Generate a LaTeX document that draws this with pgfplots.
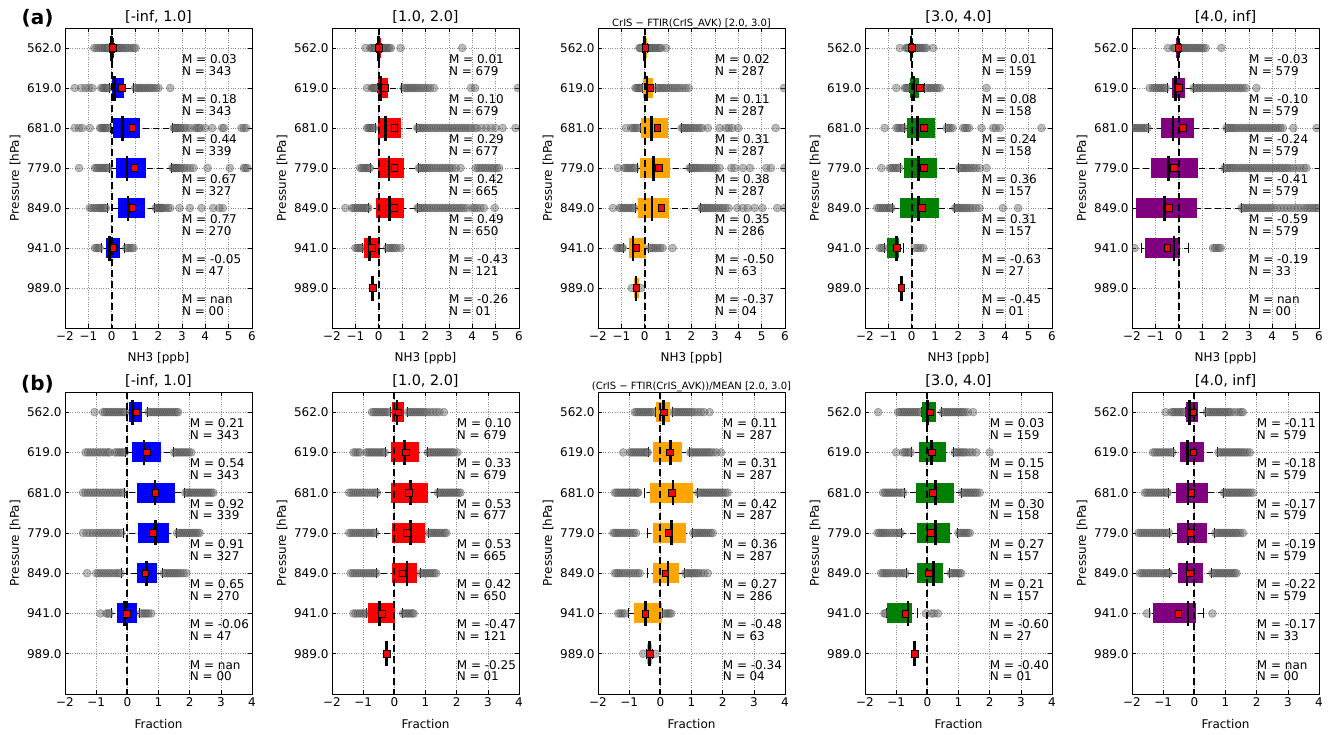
\documentclass[border=0pt]{standalone}
\usepackage{fontspec}
\setmainfont{DejaVu Sans}
\usepackage{pgfplots}
\pgfplotsset{compat=1.18}
\usepackage{pgfplotstable}

\definecolor{mblue}{RGB}{0,0,255}
\definecolor{mred}{RGB}{255,0,0}
\definecolor{morange}{RGB}{255,165,0}
\definecolor{mgreen}{RGB}{0,128,0}
\definecolor{mpurple}{RGB}{128,0,128}

\newcommand\tf{\fontsize{12}{14}\selectfont}

\pgfplotsset{
  panel/.style={scale only axis, width=187pt, anchor=south west,
    ymin=0.5, ymax=8, y dir=reverse,
    ytick={1,2,3,4,5,6,7}, yticklabels={562.0,619.0,681.0,779.0,849.0,941.0,989.0},
    grid=major, grid style={black!45, dotted, line width=0.6pt},
    axis line style={line width=0.8pt},
    tick align=inside, major tick length=4pt, tick style={black, line width=0.6pt},
    tick label style={font=\tf}, label style={font=\tf},
    ylabel={Pressure [hPa]},
    ylabel style={at={(axis description cs:-0.267,0.5)}, anchor=center},
    xlabel style={at={(axis description cs:0.5,-0.1)}, anchor=center},
    title style={at={(axis description cs:0.5,1.036)}, anchor=center, yshift=-6pt,
      font=\fontsize{14.4}{17}\selectfont},
    clip marker paths=true},
  rowa/.style={panel, height=300pt, xmin=-2, xmax=6,
    xtick={-2,-1,0,1,2,3,4,5,6}, xticklabels={−2,−1,0,1,2,3,4,5,6}, xlabel={NH3 [ppb]}},
  rowb/.style={panel, height=302pt, xmin=-2, xmax=4,
    xtick={-2,-1,0,1,2,3,4}, xticklabels={−2,−1,0,1,2,3,4}, xlabel={Fraction}},
  outl/.style={only marks, mark=*, mark size=4pt,
    mark options={fill=black!60, draw=black!75, opacity=0.45, line width=0.5pt}},
  cap/.style={only marks, mark=|, mark size=5pt, mark options={draw=black, line width=0.9pt}},
}

% whiskers (dashed) and caps
\newcommand\whisk[1]{%
  \addplot[draw=none, error bars/.cd, x dir=both, x explicit, error mark=none,
    error bar style={draw=black, line width=0.8pt, dash pattern=on 6pt off 4pt}]
    table[x=med, y=p, x error plus expr=\thisrow{wh}-\thisrow{med},
      x error minus expr=\thisrow{med}-\thisrow{wl}] {#1};
  \addplot[cap] table[x=wl, y=p] {#1};
  \addplot[cap] table[x=wh, y=p] {#1};
}
% boxes and medians
\newcommand\boxes[2]{%
  \addplot[draw=none, error bars/.cd, x dir=both, x explicit, error mark=none,
    error bar style={draw=#2, line width=20pt, solid}]
    table[x=med, y=p, x error plus expr=\thisrow{q3}-\thisrow{med},
      x error minus expr=\thisrow{med}-\thisrow{q1}] {#1};
  \addplot[only marks, mark=|, mark size=12.5pt, mark options={draw=black, line width=2.6pt}]
    table[x=med, y=p] {#1};
}
\newcommand\zeroline{\addplot[black, line width=1.7pt, dash pattern=on 7pt off 4pt] coordinates {(0,0.5) (0,8)};}
\newcommand\means[1]{\addplot[only marks, mark=square*, mark size=3.3pt,
  mark options={fill=mred, draw=black, line width=0.5pt}] table[x=mean, y=p] {#1};}
\newcommand\ann[4]{%
  \node[anchor=west, inner sep=0pt, font=\tf, yshift=-11pt] at (axis cs:#1,#2) {M = #3};
  \node[anchor=west, inner sep=0pt, font=\tf, yshift=-22.8pt] at (axis cs:#1,#2) {N = #4};}

% box statistics: position, lower whisker, q1, median, q3, upper whisker, mean
\pgfplotstableread{
p wl q1 med q3 wh mean
1 -0.10 -0.06 0.00 0.10 0.13 0.03
2 -0.10 0.03 0.13 0.51 0.92 0.44
3 -0.05 0.07 0.46 1.20 2.60 0.88
4 -0.10 0.20 0.66 1.48 2.55 0.96
5 -0.20 0.27 0.70 1.42 1.84 0.87
6 -0.44 -0.26 -0.09 0.37 0.56 0.06
}\sA
\pgfplotstableread{
p wl q1 med q3 wh mean
1 -0.10 -0.07 0.00 0.10 0.12 0.01
2 -0.07 -0.04 0.07 0.39 0.98 0.26
3 -0.15 -0.04 0.29 0.96 1.60 0.67
4 -0.35 -0.04 0.43 1.10 1.70 0.67
5 -0.43 -0.10 0.46 1.10 1.64 0.64
6 -0.70 -0.61 -0.40 0.04 0.30 -0.29
7 -0.27 -0.27 -0.27 -0.27 -0.27 -0.26
}\sB
\pgfplotstableread{
p wl q1 med q3 wh mean
1 -0.12 -0.09 0.00 0.08 0.10 0.02
2 -0.10 -0.06 0.10 0.37 0.46 0.24
3 -0.20 -0.16 0.28 0.98 1.55 0.54
4 -0.33 -0.20 0.37 1.08 1.90 0.60
5 -0.40 -0.30 0.31 1.02 2.40 0.70
6 -0.90 -0.68 -0.51 0.06 0.17 -0.37
7 -0.44 -0.44 -0.37 -0.26 -0.26 -0.37
}\sC
\pgfplotstableread{
p wl q1 med q3 wh mean
1 -0.11 -0.09 -0.03 0.06 0.08 0.01
2 -0.08 -0.06 0.09 0.31 0.56 0.34
3 -0.30 -0.20 0.24 0.98 1.45 0.51
4 -0.48 -0.33 0.30 1.10 2.00 0.51
5 -0.82 -0.51 0.29 1.17 1.84 0.44
6 -1.16 -1.08 -0.66 -0.54 -0.37 -0.63
7 -0.44 -0.44 -0.44 -0.44 -0.44 -0.45
}\sD
\pgfplotstableread{
p wl q1 med q3 wh mean
1 -0.12 -0.10 -0.03 0.04 0.06 -0.03
2 -0.50 -0.31 -0.13 0.26 0.61 0.01
3 -1.31 -0.74 -0.24 0.66 2.00 0.16
4 -2.50 -1.20 -0.43 0.82 1.93 -0.21
5 -2.50 -1.81 -0.61 0.78 2.68 -0.43
6 -1.60 -1.46 -0.21 0.07 0.40 -0.50
}\sE
\pgfplotstableread{
p wl q1 med q3 wh mean
1 -0.02 0.05 0.16 0.47 0.66 0.29
2 -0.05 0.15 0.53 1.09 1.47 0.62
3 -0.09 0.31 0.89 1.52 1.84 0.89
4 -0.14 0.34 0.90 1.33 1.57 0.81
5 -0.19 0.31 0.62 0.96 1.14 0.58
6 -0.51 -0.32 -0.09 0.30 0.40 -0.02
}\sF
\pgfplotstableread{
p wl q1 med q3 wh mean
1 -0.13 -0.09 0.09 0.30 0.41 0.13
2 -0.29 -0.11 0.32 0.78 1.05 0.36
3 -0.53 -0.11 0.52 1.08 1.37 0.47
4 -0.58 -0.08 0.51 0.98 1.10 0.39
5 -0.56 -0.08 0.41 0.74 0.84 0.26
6 -0.88 -0.85 -0.48 0.01 0.25 -0.40
7 -0.26 -0.26 -0.26 -0.26 -0.26 -0.25
}\sG
\pgfplotstableread{
p wl q1 med q3 wh mean
1 -0.17 -0.15 0.11 0.32 0.38 0.11
2 -0.39 -0.23 0.32 0.70 0.94 0.30
3 -0.50 -0.32 0.41 1.04 1.20 0.36
4 -0.40 -0.23 0.35 0.83 1.04 0.25
5 -0.40 -0.23 0.25 0.60 0.78 0.16
6 -1.03 -0.84 -0.48 0.05 0.07 -0.48
7 -0.43 -0.43 -0.34 -0.26 -0.26 -0.34
}\sH
\pgfplotstableread{
p wl q1 med q3 wh mean
1 -0.19 -0.17 0.00 0.27 0.45 0.09
2 -0.51 -0.28 0.13 0.59 0.84 0.15
3 -0.73 -0.37 0.27 0.86 1.09 0.18
4 -0.83 -0.32 0.27 0.74 0.98 0.11
5 -0.67 -0.32 0.20 0.50 0.72 0.05
6 -1.32 -1.28 -0.62 -0.49 -0.33 -0.71
7 -0.41 -0.41 -0.41 -0.41 -0.41 -0.40
}\sI
\pgfplotstableread{
p wl q1 med q3 wh mean
1 -0.30 -0.26 -0.15 0.12 0.37 -0.04
2 -0.68 -0.47 -0.22 0.31 0.74 -0.04
3 -0.84 -0.60 -0.20 0.45 0.92 -0.10
4 -0.79 -0.56 -0.20 0.39 0.65 -0.13
5 -0.79 -0.52 -0.24 0.28 0.55 -0.15
6 -1.45 -1.33 -0.20 0.06 0.30 -0.52
}\sJ

\begin{document}
\begin{tikzpicture}
\path[use as bounding box] (0pt,0pt) rectangle (1332pt,734pt);
\node[font=\fontsize{20}{24}\selectfont\bfseries] at (37.5pt,716pt) {(a)};
\node[font=\fontsize{20}{24}\selectfont\bfseries] at (37.5pt,350pt) {(b)};

% ---------------- row (a) ----------------
\begin{axis}[rowa, at={(65pt,406pt)}, title={[-inf, 1.0]}]
\whisk{\sA}
\addplot[outl] coordinates {(-0.75,1)(-0.65,1)(-0.55,1)(-0.45,1)(-0.38,1)(-0.3,1)(-0.24,1)(-0.18,1)(-0.14,1)(0.18,1)(0.24,1)(0.3,1)(0.36,1)(0.42,1)(0.5,1)(0.58,1)(0.65,1)(0.75,1)(0.85,1)(0.95,1)(1.02,1)};
\addplot[outl] coordinates {(-1.58,2)(-1.3,2)(-1.12,2)(-0.97,2)(-0.83,2)(-0.45,2)(-0.38,2)(-0.32,2)(-0.26,2)(-0.2,2)(-0.15,2)(1.0,2)(1.08,2)(1.15,2)(1.22,2)(1.3,2)(1.38,2)(1.45,2)(1.55,2)(1.62,2)(1.7,2)(1.8,2)(1.9,2)(2.0,2)(2.5,2)};
\addplot[outl] coordinates {(-1.58,3)(-1.4,3)(-1.26,3)(-0.94,3)(-0.5,3)(-0.44,3)(-0.38,3)(-0.32,3)(-0.26,3)(-0.2,3)(-0.14,3)(2.65,3)(2.7,3)(2.75,3)(2.8,3)(2.86,3)(2.93,3)(3.0,3)(3.1,3)(3.2,3)(3.35,3)(3.55,3)(3.65,3)(3.72,3)(3.8,3)(4.0,3)(4.3,3)(4.72,3)(4.8,3)(5.55,3)(5.65,3)(5.75,3)};
\addplot[outl] coordinates {(-1.4,4)(-0.72,4)(-0.65,4)(-0.58,4)(-0.5,4)(-0.42,4)(-0.35,4)(-0.28,4)(-0.2,4)(-0.15,4)(2.6,4)(2.65,4)(2.7,4)(2.75,4)(2.8,4)(2.85,4)(2.92,4)(3.0,4)(3.1,4)(3.2,4)(3.35,4)(3.5,4)(4.1,4)(5.05,4)(5.65,4)(5.72,4)(5.8,4)};
\addplot[outl] coordinates {(-0.94,5)(-0.85,5)(-0.75,5)(-0.66,5)(-0.58,5)(-0.5,5)(-0.44,5)(-0.38,5)(-0.3,5)(-0.25,5)(1.88,5)(1.95,5)(2.0,5)(2.05,5)(2.1,5)(2.15,5)(2.2,5)(2.3,5)(2.4,5)(2.5,5)(2.9,5)(3.34,5)(3.84,5)(4.34,5)(4.6,5)(4.75,5)};
\addplot[outl] coordinates {(-0.72,6)(-0.65,6)(-0.58,6)(-0.52,6)(0.62,6)(0.7,6)(0.78,6)(0.86,6)(0.92,6)};
\boxes{\sA}{mblue}
\zeroline
\means{\sA}
\ann{3}{1}{0.03}{343}\ann{3}{2}{0.18}{343}\ann{3}{3}{0.44}{339}\ann{3}{4}{0.67}{327}
\ann{3}{5}{0.77}{270}\ann{3}{6}{-0.05}{47}\ann{3}{7}{nan}{00}
\end{axis}

\begin{axis}[rowa, at={(332pt,406pt)}, title={[1.0, 2.0]}]
\whisk{\sB}
\addplot[outl] coordinates {(-0.57,1)(-0.36,1)(-0.3,1)(-0.24,1)(-0.18,1)(-0.13,1)(0.15,1)(0.2,1)(0.26,1)(0.32,1)(0.38,1)(0.45,1)(0.52,1)(0.93,1)(3.57,1)};
\addplot[outl] coordinates {(-0.5,2)(-0.3,2)(-0.25,2)(-0.2,2)(-0.15,2)(-0.1,2)(1.07,2)(1.15,2)(1.22,2)(1.3,2)(1.38,2)(1.46,2)(1.54,2)(1.62,2)(1.7,2)(1.8,2)(1.9,2)(2.0,2)(2.1,2)(2.2,2)(2.36,2)(3.95,2)(4.12,2)(5.95,2)};
\addplot[outl] coordinates {(-0.5,3)(-0.44,3)(-0.38,3)(-0.32,3)(-0.26,3)(-0.2,3)(1.65,3)(1.72,3)(1.8,3)(1.88,3)(1.95,3)(2.05,3)(2.15,3)(2.25,3)(2.35,3)(2.45,3)(2.55,3)(2.65,3)(2.75,3)(2.85,3)(2.95,3)(3.05,3)(3.15,3)(3.25,3)(3.35,3)(3.45,3)(3.55,3)(3.65,3)(3.75,3)(3.85,3)(3.95,3)(4.1,3)(4.2,3)(4.4,3)(4.6,3)(4.8,3)(5.0,3)(5.3,3)(5.85,3)};
\addplot[outl] coordinates {(-0.79,4)(-0.72,4)(-0.65,4)(-0.58,4)(-0.5,4)(-0.43,4)(-0.38,4)(1.72,4)(1.78,4)(1.85,4)(1.92,4)(2.0,4)(2.08,4)(2.16,4)(2.25,4)(2.35,4)(2.45,4)(2.55,4)(2.65,4)(2.75,4)(2.85,4)(2.95,4)(3.05,4)(3.15,4)(3.3,4)(3.5,4)(4.15,4)(4.25,4)(4.35,4)(4.45,4)(4.55,4)(4.65,4)(4.75,4)(4.85,4)(4.95,4)(5.05,4)(5.15,4)};
\addplot[outl] coordinates {(-1.43,5)(-1.14,5)(-1.06,5)(-0.98,5)(-0.9,5)(-0.82,5)(-0.74,5)(-0.66,5)(-0.58,5)(-0.5,5)(-0.45,5)(1.66,5)(1.72,5)(1.8,5)(1.88,5)(1.96,5)(2.05,5)(2.15,5)(2.25,5)(2.35,5)(2.45,5)(2.55,5)(2.65,5)(2.75,5)(2.85,5)(2.95,5)(3.05,5)(3.15,5)(3.25,5)(3.35,5)(3.45,5)(3.55,5)(3.65,5)(3.78,5)(4.0,5)(4.1,5)(4.2,5)(4.35,5)(4.5,5)(4.96,5)};
\addplot[outl] coordinates {(-1.0,6)(-0.92,6)(-0.85,6)(-0.78,6)(-0.72,6)(0.36,6)(0.44,6)(0.52,6)(0.6,6)(0.68,6)(0.76,6)(0.93,6)};
\boxes{\sB}{mred}
\zeroline
\means{\sB}
\ann{3}{1}{0.01}{679}\ann{3}{2}{0.10}{679}\ann{3}{3}{0.29}{677}\ann{3}{4}{0.42}{665}
\ann{3}{5}{0.49}{650}\ann{3}{6}{-0.43}{121}\ann{3}{7}{-0.26}{01}
\end{axis}

\begin{axis}[rowa, at={(598pt,406pt)}, title={CrIS − FTIR(CrIS\_AVK) [2.0, 3.0]},
  title style={font=\fontsize{10}{12}\selectfont, at={(axis description cs:0.5,1.014)}}]
\whisk{\sC}
\addplot[outl] coordinates {(-0.23,1)(-0.18,1)(-0.13,1)(0.14,1)(0.2,1)(0.26,1)(0.32,1)(0.4,1)(0.48,1)(0.56,1)(0.64,1)(0.7,1)(0.91,1)};
\addplot[outl] coordinates {(-0.4,2)(-0.34,2)(-0.28,2)(-0.22,2)(-0.16,2)(-0.12,2)(0.5,2)(0.58,2)(0.66,2)(0.74,2)(0.82,2)(0.9,2)(1.0,2)(1.1,2)(1.2,2)(1.3,2)(1.4,2)(1.5,2)(1.62,2)(1.75,2)(1.88,2)(5.95,2)};
\addplot[outl] coordinates {(-0.8,3)(-0.58,3)(-0.5,3)(-0.42,3)(-0.34,3)(-0.26,3)(1.58,3)(1.65,3)(1.72,3)(1.8,3)(1.88,3)(1.96,3)(2.05,3)(2.15,3)(2.25,3)(2.35,3)(2.45,3)(2.7,3)(3.2,3)(3.47,3)(3.6,3)(3.75,3)(4.0,3)(5.6,3)};
\addplot[outl] coordinates {(-1.15,4)(-0.87,4)(-0.8,4)(-0.72,4)(-0.64,4)(-0.56,4)(-0.48,4)(-0.4,4)(1.92,4)(1.98,4)(2.05,4)(2.12,4)(2.2,4)(2.28,4)(2.36,4)(2.45,4)(2.55,4)(2.65,4)(2.75,4)(2.85,4)(2.95,4)(3.05,4)(3.2,4)(3.7,4)(3.85,4)(4.2,4)(4.5,4)(5.2,4)(5.4,4)(5.97,4)};
\addplot[outl] coordinates {(-1.36,5)(-1.08,5)(-1.0,5)(-0.92,5)(-0.84,5)(-0.76,5)(-0.68,5)(-0.6,5)(-0.52,5)(-0.45,5)(2.42,5)(2.48,5)(2.55,5)(2.62,5)(2.7,5)(2.78,5)(2.86,5)(2.95,5)(3.05,5)(3.15,5)(3.25,5)(3.35,5)(3.45,5)(3.58,5)(3.96,5)(4.2,5)(4.4,5)(4.7,5)(5.03,5)(5.67,5)(5.97,5)};
\addplot[outl] coordinates {(-1.2,6)(-1.12,6)(-1.05,6)(-0.98,6)(-0.94,6)(0.22,6)(0.3,6)(0.38,6)(0.46,6)(0.56,6)(0.66,6)(0.77,6)(1.19,6)};
\addplot[outl] coordinates {(-0.55,7)(-0.17,7)};
\boxes{\sC}{morange}
\zeroline
\means{\sC}
\ann{3}{1}{0.02}{287}\ann{3}{2}{0.11}{287}\ann{3}{3}{0.31}{287}\ann{3}{4}{0.38}{287}
\ann{3}{5}{0.35}{286}\ann{3}{6}{-0.50}{63}\ann{3}{7}{-0.37}{04}
\end{axis}

\begin{axis}[rowa, at={(865pt,406pt)}, title={[3.0, 4.0]}]
\whisk{\sD}
\addplot[outl] coordinates {(-0.51,1)(-0.24,1)(-0.18,1)(-0.14,1)(0.1,1)(0.16,1)(0.22,1)(0.28,1)(0.34,1)(0.4,1)(0.48,1)(0.56,1)(0.63,1)(0.91,1)};
\addplot[outl] coordinates {(-0.66,2)(-0.3,2)(-0.24,2)(-0.18,2)(-0.12,2)(0.63,2)(0.7,2)(0.78,2)(0.86,2)(0.94,2)(1.02,2)(1.1,2)(1.2,2)(3.2,2)};
\addplot[outl] coordinates {(-1.16,3)(-0.66,3)(-0.58,3)(-0.5,3)(-0.42,3)(-0.34,3)(1.5,3)(1.58,3)(1.66,3)(1.75,3)(2.2,3)(2.28,3)(2.36,3)(2.45,3)(2.98,3)(3.48,3)(3.6,3)(3.77,3)(5.55,3)};
\addplot[outl] coordinates {(-1.3,4)(-0.94,4)(-0.86,4)(-0.78,4)(-0.7,4)(-0.62,4)(-0.54,4)(2.05,4)(2.12,4)(2.2,4)(2.28,4)(2.36,4)(2.45,4)(2.55,4)(2.65,4)(2.75,4)(2.9,4)(3.2,4)};
\addplot[outl] coordinates {(-1.48,5)(-1.4,5)(-1.32,5)(-1.24,5)(-1.16,5)(-1.08,5)(-1.0,5)(-0.92,5)(-0.87,5)(1.86,5)(1.92,5)(2.0,5)(2.08,5)(2.16,5)(2.24,5)(2.32,5)(2.4,5)(2.5,5)(2.6,5)(2.75,5)(2.9,5)(3.9,5)(4.55,5)};
\addplot[outl] coordinates {(-1.37,6)(-1.28,6)(-1.2,6)(0.13,6)(0.25,6)(0.37,6)(0.49,6)};
\boxes{\sD}{mgreen}
\zeroline
\means{\sD}
\ann{3}{1}{0.01}{159}\ann{3}{2}{0.08}{158}\ann{3}{3}{0.24}{158}\ann{3}{4}{0.36}{157}
\ann{3}{5}{0.31}{157}\ann{3}{6}{-0.63}{27}\ann{3}{7}{-0.45}{01}
\end{axis}

\begin{axis}[rowa, at={(1132pt,406pt)}, title={[4.0, inf]}]
\whisk{\sE}
\addplot[outl] coordinates {(-0.46,1)(-0.24,1)(-0.18,1)(-0.13,1)(0.08,1)(0.14,1)(0.2,1)(0.27,1)(0.34,1)(0.42,1)(0.5,1)(0.58,1)(0.66,1)(0.74,1)(0.82,1)(0.9,1)(0.98,1)(1.06,1)(1.15,1)(1.82,1)};
\addplot[outl] coordinates {(-1.24,2)(-1.1,2)(-1.02,2)(-0.94,2)(-0.86,2)(-0.78,2)(-0.7,2)(-0.62,2)(-0.55,2)(0.64,2)(0.72,2)(0.8,2)(0.88,2)(0.96,2)(1.05,2)(1.15,2)(1.25,2)(1.35,2)(1.45,2)(1.55,2)(1.65,2)(1.75,2)(1.85,2)(1.95,2)(2.05,2)(2.15,2)(2.25,2)(2.35,2)(2.45,2)(2.55,2)(2.65,2)(2.75,2)(2.88,2)(3.32,2)};
\addplot[outl] coordinates {(-1.98,3)(-1.9,3)(-1.82,3)(-1.74,3)(-1.66,3)(-1.58,3)(-1.5,3)(-1.42,3)(-1.34,3)(2.05,3)(2.12,3)(2.2,3)(2.28,3)(2.36,3)(2.45,3)(2.55,3)(2.65,3)(2.75,3)(2.85,3)(2.95,3)(3.05,3)(3.15,3)(3.25,3)(3.35,3)(3.45,3)(3.55,3)(3.65,3)(3.75,3)(3.85,3)(3.95,3)(4.05,3)(4.15,3)(4.25,3)(4.35,3)(4.45,3)(4.9,3)(5.9,3)};
\addplot[outl] coordinates {(1.96,4)(2.02,4)(2.1,4)(2.18,4)(2.26,4)(2.35,4)(2.45,4)(2.55,4)(2.65,4)(2.75,4)(2.85,4)(2.95,4)(3.05,4)(3.15,4)(3.25,4)(3.35,4)(3.45,4)(3.55,4)(3.65,4)(3.75,4)(3.85,4)(3.95,4)(4.05,4)(4.15,4)(4.25,4)(4.35,4)(4.45,4)(4.55,4)(4.65,4)(4.75,4)(4.9,4)(5.05,4)(5.2,4)(5.35,4)(5.46,4)};
\addplot[outl] coordinates {(2.7,5)(2.78,5)(2.86,5)(2.95,5)(3.05,5)(3.15,5)(3.25,5)(3.35,5)(3.45,5)(3.55,5)(3.65,5)(3.75,5)(3.85,5)(3.95,5)(4.05,5)(4.2,5)(4.35,5)(4.5,5)(4.65,5)(4.8,5)(4.95,5)(5.1,5)(5.25,5)(5.4,5)(5.5,5)(5.6,5)(5.7,5)(5.8,5)(5.9,5)(5.98,5)};
\addplot[outl] coordinates {(-1.89,6)(1.47,6)(1.55,6)(1.63,6)(1.72,6)(1.8,6)};
\boxes{\sE}{mpurple}
\zeroline
\means{\sE}
\ann{3}{1}{-0.03}{579}\ann{3}{2}{-0.10}{579}\ann{3}{3}{-0.24}{579}\ann{3}{4}{-0.41}{579}
\ann{3}{5}{-0.59}{579}\ann{3}{6}{-0.19}{33}\ann{3}{7}{nan}{00}
\end{axis}

% ---------------- row (b) ----------------
\begin{axis}[rowb, at={(65pt,40pt)}, title={[-inf, 1.0]}]
\whisk{\sF}
\addplot[outl] coordinates {(-1.05,1)(-0.78,1)(-0.72,1)(-0.66,1)(-0.6,1)(-0.54,1)(-0.48,1)(-0.42,1)(-0.36,1)(-0.3,1)(-0.24,1)(-0.18,1)(-0.12,1)(-0.06,1)(0.68,1)(0.74,1)(0.8,1)(0.86,1)(0.92,1)(0.98,1)(1.04,1)(1.1,1)(1.16,1)(1.22,1)(1.28,1)(1.34,1)(1.4,1)(1.46,1)(1.52,1)(1.58,1)(1.63,1)};
\addplot[outl] coordinates {(-1.34,2)(-1.26,2)(-1.18,2)(-1.1,2)(-1.02,2)(-0.94,2)(-0.86,2)(-0.78,2)(-0.7,2)(-0.62,2)(-0.57,2)(-0.4,2)(-0.33,2)(-0.26,2)(-0.2,2)(-0.14,2)(-0.08,2)(1.5,2)(1.56,2)(1.62,2)(1.68,2)(1.74,2)(1.8,2)(1.86,2)(1.92,2)(1.98,2)(2.05,2)};
\addplot[outl] coordinates {(-1.42,3)(-1.34,3)(-1.26,3)(-1.18,3)(-1.1,3)(-1.02,3)(-0.94,3)(-0.86,3)(-0.78,3)(-0.7,3)(-0.62,3)(-0.54,3)(-0.46,3)(-0.38,3)(-0.3,3)(-0.22,3)(-0.14,3)(1.86,3)(1.92,3)(1.98,3)(2.04,3)(2.1,3)(2.16,3)(2.22,3)(2.28,3)(2.34,3)(2.4,3)(2.46,3)(2.52,3)(2.58,3)(2.64,3)(2.7,3)(2.76,3)};
\addplot[outl] coordinates {(-1.42,4)(-1.3,4)(-1.2,4)(-1.1,4)(-1.0,4)(-0.92,4)(-0.84,4)(-0.76,4)(-0.68,4)(-0.6,4)(-0.52,4)(-0.44,4)(-0.36,4)(-0.28,4)(-0.2,4)(1.6,4)(1.66,4)(1.72,4)(1.78,4)(1.84,4)(1.9,4)(1.96,4)(2.02,4)(2.08,4)(2.14,4)(2.2,4)(2.26,4)(2.32,4)};
\addplot[outl] coordinates {(-1.29,5)(-1.0,5)(-0.92,5)(-0.84,5)(-0.76,5)(-0.68,5)(-0.6,5)(-0.52,5)(-0.44,5)(-0.36,5)(-0.28,5)(-0.22,5)(1.17,5)(1.23,5)(1.29,5)(1.35,5)(1.41,5)(1.47,5)(1.53,5)(1.59,5)(1.65,5)(1.72,5)(1.8,5)(1.89,5)};
\addplot[outl] coordinates {(-0.87,6)(-0.67,6)(-0.62,6)(-0.57,6)(0.44,6)(0.5,6)(0.56,6)(0.62,6)(0.68,6)(0.77,6)};
\boxes{\sF}{mblue}
\zeroline
\means{\sF}
\ann{2}{1}{0.21}{343}\ann{2}{2}{0.54}{343}\ann{2}{3}{0.92}{339}\ann{2}{4}{0.91}{327}
\ann{2}{5}{0.65}{270}\ann{2}{6}{-0.06}{47}\ann{2}{7}{nan}{00}
\end{axis}

\begin{axis}[rowb, at={(332pt,40pt)}, title={[1.0, 2.0]}]
\whisk{\sG}
\addplot[outl] coordinates {(-0.72,1)(-0.66,1)(-0.6,1)(-0.54,1)(-0.48,1)(-0.42,1)(-0.36,1)(-0.3,1)(-0.24,1)(-0.18,1)(0.44,1)(0.5,1)(0.56,1)(0.62,1)(0.68,1)(0.74,1)(0.8,1)(0.86,1)(0.92,1)(0.98,1)(1.05,1)(1.15,1)(1.25,1)(1.35,1)(1.45,1)(1.59,1)};
\addplot[outl] coordinates {(-1.31,2)(-1.24,2)(-1.17,2)(-1.1,2)(-0.9,2)(-0.84,2)(-0.78,2)(-0.72,2)(-0.66,2)(-0.6,2)(-0.54,2)(-0.48,2)(-0.42,2)(-0.36,2)(-0.31,2)(1.08,2)(1.14,2)(1.2,2)(1.26,2)(1.32,2)(1.38,2)(1.44,2)(1.5,2)(1.56,2)(1.62,2)(1.68,2)(1.74,2)(1.8,2)(1.86,2)(1.92,2)(2.02,2)};
\addplot[outl] coordinates {(-1.45,3)(-1.38,3)(-1.31,3)(-1.24,3)(-1.17,3)(-1.1,3)(-1.02,3)(-0.94,3)(-0.86,3)(-0.78,3)(-0.7,3)(-0.62,3)(-0.56,3)(1.4,3)(1.46,3)(1.52,3)(1.58,3)(1.64,3)(1.7,3)(1.76,3)(1.82,3)(1.88,3)(1.94,3)(2.0,3)(2.06,3)(2.12,3)};
\addplot[outl] coordinates {(-1.45,4)(-1.38,4)(-1.31,4)(-1.24,4)(-1.17,4)(-1.1,4)(-1.03,4)(-0.96,4)(-0.89,4)(-0.82,4)(-0.75,4)(-0.68,4)(-0.62,4)(1.12,4)(1.18,4)(1.24,4)(1.3,4)(1.36,4)(1.42,4)(1.48,4)(1.55,4)(1.62,4)(1.67,4)};
\addplot[outl] coordinates {(-1.4,5)(-1.33,5)(-1.26,5)(-1.19,5)(-1.12,5)(-1.05,5)(-0.98,5)(-0.91,5)(-0.84,5)(-0.77,5)(-0.7,5)(-0.63,5)(-0.58,5)(0.86,5)(0.92,5)(0.98,5)(1.04,5)(1.1,5)(1.16,5)(1.22,5)(1.28,5)(1.34,5)};
\addplot[outl] coordinates {(-1.31,6)(-1.24,6)(-1.17,6)(-1.1,6)(-1.03,6)(-0.96,6)(-0.9,6)(0.28,6)(0.34,6)(0.4,6)(0.46,6)(0.52,6)(0.58,6)(0.62,6)};
\boxes{\sG}{mred}
\zeroline
\means{\sG}
\ann{2}{1}{0.10}{679}\ann{2}{2}{0.33}{679}\ann{2}{3}{0.53}{677}\ann{2}{4}{0.53}{665}
\ann{2}{5}{0.42}{650}\ann{2}{6}{-0.47}{121}\ann{2}{7}{-0.25}{01}
\end{axis}

\begin{axis}[rowb, at={(598pt,40pt)}, title={(CrIS − FTIR(CrIS\_AVK))/MEAN [2.0, 3.0]},
  title style={font=\fontsize{10}{12}\selectfont, at={(axis description cs:0.5,1.017)}}]
\whisk{\sH}
\addplot[outl] coordinates {(-0.82,1)(-0.76,1)(-0.7,1)(-0.64,1)(-0.58,1)(-0.52,1)(-0.46,1)(-0.4,1)(-0.34,1)(-0.28,1)(-0.22,1)(0.42,1)(0.48,1)(0.54,1)(0.6,1)(0.66,1)(0.72,1)(0.78,1)(0.84,1)(0.9,1)(0.96,1)(1.02,1)(1.1,1)(1.2,1)(1.3,1)(1.4,1)(1.58,1)};
\addplot[outl] coordinates {(-1.19,2)(-0.98,2)(-0.92,2)(-0.86,2)(-0.8,2)(-0.74,2)(-0.68,2)(-0.62,2)(-0.56,2)(-0.5,2)(-0.44,2)(-0.41,2)(0.96,2)(1.02,2)(1.08,2)(1.14,2)(1.2,2)(1.26,2)(1.32,2)(1.38,2)(1.44,2)(1.5,2)(1.56,2)(1.62,2)(1.7,2)(1.8,2)(1.95,2)};
\addplot[outl] coordinates {(-1.46,3)(-1.4,3)(-1.34,3)(-1.28,3)(-1.22,3)(-1.16,3)(-1.1,3)(-1.04,3)(-0.98,3)(-0.92,3)(-0.86,3)(-0.8,3)(-0.74,3)(-0.71,3)(1.22,3)(1.28,3)(1.34,3)(1.4,3)(1.46,3)(1.52,3)(1.58,3)(1.64,3)(1.7,3)(1.76,3)(1.82,3)(1.88,3)(1.94,3)(2.0,3)(2.08,3)(2.16,3)};
\addplot[outl] coordinates {(-1.51,4)(-1.45,4)(-1.39,4)(-1.33,4)(-1.27,4)(-1.2,4)(-1.13,4)(-1.06,4)(-0.99,4)(-0.92,4)(-0.85,4)(-0.78,4)(1.06,4)(1.12,4)(1.18,4)(1.24,4)(1.3,4)(1.36,4)(1.42,4)(1.48,4)(1.55,4)(1.62,4)(1.68,4)};
\addplot[outl] coordinates {(-1.46,5)(-1.4,5)(-1.34,5)(-1.28,5)(-1.2,5)(-1.12,5)(-1.04,5)(-0.96,5)(-0.88,5)(-0.8,5)(-0.72,5)(-0.66,5)(0.8,5)(0.86,5)(0.92,5)(0.98,5)(1.04,5)(1.1,5)(1.16,5)(1.22,5)(1.3,5)(1.4,5)(1.52,5)};
\addplot[outl] coordinates {(-1.35,6)(-1.28,6)(-1.21,6)(-1.14,6)(0.12,6)(0.18,6)(0.24,6)(0.3,6)(0.35,6)};
\addplot[outl] coordinates {(-0.55,7)(-0.15,7)};
\boxes{\sH}{morange}
\zeroline
\means{\sH}
\ann{2}{1}{0.11}{287}\ann{2}{2}{0.31}{287}\ann{2}{3}{0.42}{287}\ann{2}{4}{0.36}{287}
\ann{2}{5}{0.27}{286}\ann{2}{6}{-0.48}{63}\ann{2}{7}{-0.34}{04}
\end{axis}

\begin{axis}[rowb, at={(865pt,40pt)}, title={[3.0, 4.0]}]
\whisk{\sI}
\addplot[outl] coordinates {(-1.58,1)(-0.94,1)(-0.88,1)(-0.82,1)(-0.76,1)(-0.7,1)(-0.64,1)(-0.58,1)(-0.52,1)(-0.46,1)(-0.4,1)(-0.34,1)(-0.28,1)(-0.22,1)(0.48,1)(0.54,1)(0.6,1)(0.66,1)(0.72,1)(0.78,1)(0.84,1)(0.9,1)(0.96,1)(1.02,1)(1.08,1)(1.14,1)(1.2,1)(1.3,1)(1.47,1)};
\addplot[outl] coordinates {(-1.0,2)(-0.78,2)(-0.72,2)(-0.66,2)(-0.6,2)(-0.54,2)(0.88,2)(0.94,2)(1.0,2)(1.06,2)(1.12,2)(1.18,2)(1.25,2)(1.35,2)(1.45,2)(1.57,2)(2.0,2)};
\addplot[outl] coordinates {(-1.42,3)(-1.36,3)(-1.3,3)(-1.24,3)(-1.18,3)(-1.12,3)(-1.05,3)(-0.98,3)(-0.91,3)(-0.84,3)(-0.77,3)(1.12,3)(1.18,3)(1.24,3)(1.3,3)(1.36,3)(1.42,3)(1.48,3)(1.54,3)(1.6,3)(1.68,3)};
\addplot[outl] coordinates {(-1.6,4)(-1.54,4)(-1.48,4)(-1.42,4)(-1.36,4)(-1.3,4)(-1.22,4)(-1.14,4)(-1.06,4)(-0.98,4)(-0.9,4)(-0.86,4)(1.0,4)(1.06,4)(1.12,4)(1.18,4)(1.24,4)(1.3,4)(1.36,4)};
\addplot[outl] coordinates {(-1.48,5)(-1.42,5)(-1.36,5)(-1.3,5)(-1.24,5)(-1.16,5)(-1.08,5)(-1.0,5)(-0.92,5)(-0.84,5)(-0.76,5)(-0.7,5)(0.75,5)(0.8,5)(0.86,5)(0.92,5)(0.98,5)(1.04,5)(1.09,5)};
\addplot[outl] coordinates {(-1.38,6)(-1.34,6)(-0.05,6)(0.13,6)(0.22,6)(0.34,6)};
\boxes{\sI}{mgreen}
\zeroline
\means{\sI}
\ann{2}{1}{0.03}{159}\ann{2}{2}{0.15}{158}\ann{2}{3}{0.30}{158}\ann{2}{4}{0.27}{157}
\ann{2}{5}{0.21}{157}\ann{2}{6}{-0.60}{27}\ann{2}{7}{-0.40}{01}
\end{axis}

\begin{axis}[rowb, at={(1132pt,40pt)}, title={[4.0, inf]}]
\whisk{\sJ}
\addplot[outl] coordinates {(-0.92,1)(-0.74,1)(-0.68,1)(-0.62,1)(-0.56,1)(-0.5,1)(-0.44,1)(-0.38,1)(-0.33,1)(0.4,1)(0.46,1)(0.52,1)(0.58,1)(0.64,1)(0.7,1)(0.76,1)(0.82,1)(0.88,1)(0.94,1)(1.0,1)(1.06,1)(1.12,1)(1.18,1)(1.3,1)(1.42,1)(1.5,1)(1.56,1)};
\addplot[outl] coordinates {(-1.33,2)(-1.26,2)(-1.19,2)(-1.12,2)(-1.05,2)(-0.98,2)(-0.91,2)(-0.84,2)(-0.77,2)(-0.71,2)(0.78,2)(0.84,2)(0.9,2)(0.96,2)(1.02,2)(1.08,2)(1.14,2)(1.2,2)(1.26,2)(1.32,2)(1.38,2)(1.44,2)(1.5,2)(1.56,2)(1.62,2)(1.7,2)(1.78,2)};
\addplot[outl] coordinates {(-1.59,3)(-1.52,3)(-1.45,3)(-1.38,3)(-1.31,3)(-1.24,3)(-1.17,3)(-1.1,3)(-1.03,3)(-0.96,3)(-0.89,3)(-0.86,3)(0.95,3)(1.01,3)(1.07,3)(1.13,3)(1.19,3)(1.25,3)(1.31,3)(1.37,3)(1.43,3)(1.49,3)(1.55,3)(1.61,3)(1.67,3)(1.73,3)(1.8,3)(1.88,3)};
\addplot[outl] coordinates {(-1.79,4)(-1.72,4)(-1.65,4)(-1.58,4)(-1.51,4)(-1.44,4)(-1.37,4)(-1.3,4)(-1.23,4)(-1.16,4)(-1.09,4)(-1.02,4)(-0.95,4)(-0.88,4)(-0.82,4)(0.68,4)(0.74,4)(0.8,4)(0.86,4)(0.92,4)(0.98,4)(1.04,4)(1.1,4)(1.16,4)(1.22,4)(1.28,4)(1.34,4)(1.4,4)(1.48,4)(1.56,4)};
\addplot[outl] coordinates {(-1.75,5)(-1.68,5)(-1.61,5)(-1.54,5)(-1.47,5)(-1.4,5)(-1.33,5)(-1.26,5)(-1.19,5)(-1.12,5)(-1.05,5)(-0.98,5)(-0.91,5)(-0.84,5)(-0.82,5)(0.58,5)(0.64,5)(0.7,5)(0.76,5)(0.82,5)(0.88,5)(0.94,5)(1.0,5)(1.06,5)(1.12,5)(1.18,5)(1.24,5)(1.3,5)(1.35,5)};
\addplot[outl] coordinates {(-1.52,6)(0.58,6)};
\boxes{\sJ}{mpurple}
\zeroline
\means{\sJ}
\ann{2}{1}{-0.11}{579}\ann{2}{2}{-0.18}{579}\ann{2}{3}{-0.17}{579}\ann{2}{4}{-0.19}{579}
\ann{2}{5}{-0.22}{579}\ann{2}{6}{-0.17}{33}\ann{2}{7}{nan}{00}
\end{axis}
\end{tikzpicture}
\end{document}
